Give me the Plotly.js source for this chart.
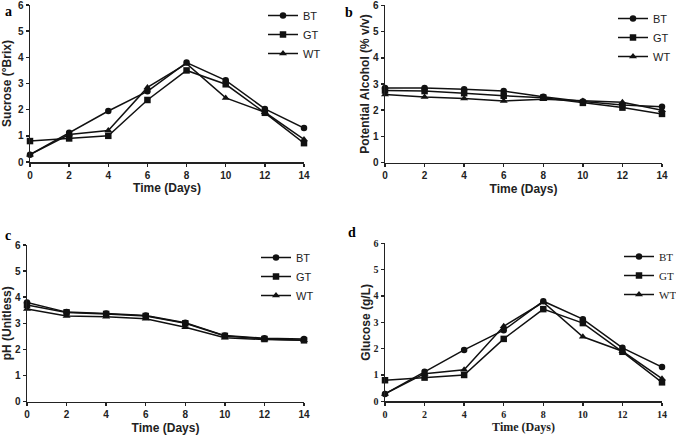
<!DOCTYPE html>
<html><head><meta charset="utf-8">
<script src="https://cdn.plot.ly/plotly-3.0.1.min.js"></script>
<style>html,body{margin:0;padding:0;background:#fff}#chart{width:676px;height:438px}</style>
</head><body><div id="chart"></div>
<script>
const days = [0, 2, 4, 6, 8, 10, 12, 14];
const seriesNames = ["BT", "GT", "WT"];

const sucroseBT = [0.28, 1.12, 1.95, 2.70, 3.80, 3.12, 2.03, 1.30];
const sucroseGT = [0.80, 0.90, 1.00, 2.37, 3.50, 2.97, 1.88, 0.72];
const sucroseWT = [0.28, 1.05, 1.20, 2.85, 3.76, 2.45, 1.90, 0.86];

const alcoholBT = [2.85, 2.85, 2.80, 2.73, 2.51, 2.33, 2.20, 2.13];
const alcoholGT = [2.75, 2.73, 2.65, 2.55, 2.48, 2.28, 2.10, 1.86];
const alcoholWT = [2.60, 2.50, 2.45, 2.35, 2.42, 2.35, 2.30, 2.00];

const phBT = [3.80, 3.43, 3.38, 3.30, 3.02, 2.53, 2.43, 2.40];
const phGT = [3.70, 3.42, 3.36, 3.28, 3.00, 2.52, 2.40, 2.35];
const phWT = [3.55, 3.28, 3.25, 3.18, 2.85, 2.45, 2.38, 2.35];

const glucoseBT = [0.28, 1.12, 1.95, 2.70, 3.80, 3.12, 2.03, 1.30];
const glucoseGT = [0.80, 0.90, 1.00, 2.37, 3.50, 2.97, 1.88, 0.72];
const glucoseWT = [0.28, 1.05, 1.20, 2.85, 3.76, 2.45, 1.90, 0.86];

const panelLetters = ["a", "b", "c", "d"];
const yTitles = ["Sucrose (°Brix)", "Potential Alcohol (% v/v)", "pH (Unitless)", "Glucose (g/L)"];
const xTitle = "Time (Days)";

const W = 676, H = 438;
const symbols = ["circle", "square", "triangle-up"];
const panels = [
  {data:[sucroseBT,sucroseGT,sucroseWT], x:[30,304], y:[5,162], leg:[263,1], serif:false, letter:[3,11], so:3},
  {data:[alcoholBT,alcoholGT,alcoholWT], x:[385,662], y:[5.3,162.7], leg:[613,4], serif:false, letter:[343,13], so:0},
  {data:[phBT,phGT,phWT], x:[27,304], y:[245,401.7], leg:[256,243], serif:false, letter:[3,235], so:3},
  {data:[glucoseBT,glucoseGT,glucoseWT], x:[385,662], y:[243.3,401.3], leg:[619,242], serif:true, letter:[346,232], so:0}
];
const sans = "Liberation Sans, Arial, sans-serif";
const serif = "Liberation Serif, Times New Roman, serif";

const traces = [];
const layout = {
  width: W, height: H, margin:{l:0,r:0,t:0,b:0, autoexpand:false},
  paper_bgcolor:"#fff", plot_bgcolor:"#fff", showlegend:true,
  annotations: []
};
panels.forEach((p, i) => {
  const k = i === 0 ? "" : String(i+1);
  const legName = i === 0 ? "legend" : "legend" + (i+1);
  const tf = p.serif ? serif : sans;
  p.data.forEach((vals, j) => {
    traces.push({
      x: days, y: vals, name: seriesNames[j], type:"scatter", mode:"lines+markers",
      xaxis:"x"+k, yaxis:"y"+k, legend: legName, cliponaxis:false,
      line:{color:"#111", width:1.5},
      marker:{symbol:symbols[j], size: j===2 ? 7 : 6.5, color:"#111"}
    });
  });
  const axBase = {showgrid:false, zeroline:false, showline:true, linecolor:"#222", linewidth:1.5,
    ticks:"outside", ticklen:3, tickwidth:1.5, tickcolor:"#222", fixedrange:true, ticklabeloverflow:"allow", automargin:false};
  layout["xaxis"+k] = Object.assign({}, axBase, {
    domain:[p.x[0]/W, p.x[1]/W], range:[0,14], tickvals:days, anchor:"y"+k,
    tickfont:{family:tf, size:10, color:"#222", weight:"bold"},
    title:{text:xTitle, font:{family:tf, size:12, color:"#222", weight:"bold"}, standoff:4}
  });
  layout["yaxis"+k] = Object.assign({}, axBase, {
    domain:[1-p.y[1]/H, 1-p.y[0]/H], range:[0,6], tickvals:[0,1,2,3,4,5,6], anchor:"x"+k,
    tickfont:{family:tf, size:10, color:"#222", weight:"bold"},
    title:{text:yTitles[i], font:{family:sans, size:12, color:"#222", weight:"bold"}, standoff:p.so}
  });
  layout[legName] = {
    x: p.leg[0]/W, y: 1-p.leg[1]/H, xanchor:"left", yanchor:"top", xref:"paper", yref:"paper",
    bgcolor:"rgba(0,0,0,0)", borderwidth:0, itemwidth:30, tracegroupgap:0,
    font:{family:tf, size:11, color:"#222"}
  };
  layout.annotations.push({
    text:panelLetters[i], xref:"paper", yref:"paper", x:p.letter[0]/W, y:1-p.letter[1]/H,
    xanchor:"left", yanchor:"middle", showarrow:false,
    font:{family:serif, size:14, color:"#000", weight:"bold"}
  });
});
Plotly.newPlot("chart", traces, layout, {displayModeBar:false, staticPlot:true});
</script></body></html>
